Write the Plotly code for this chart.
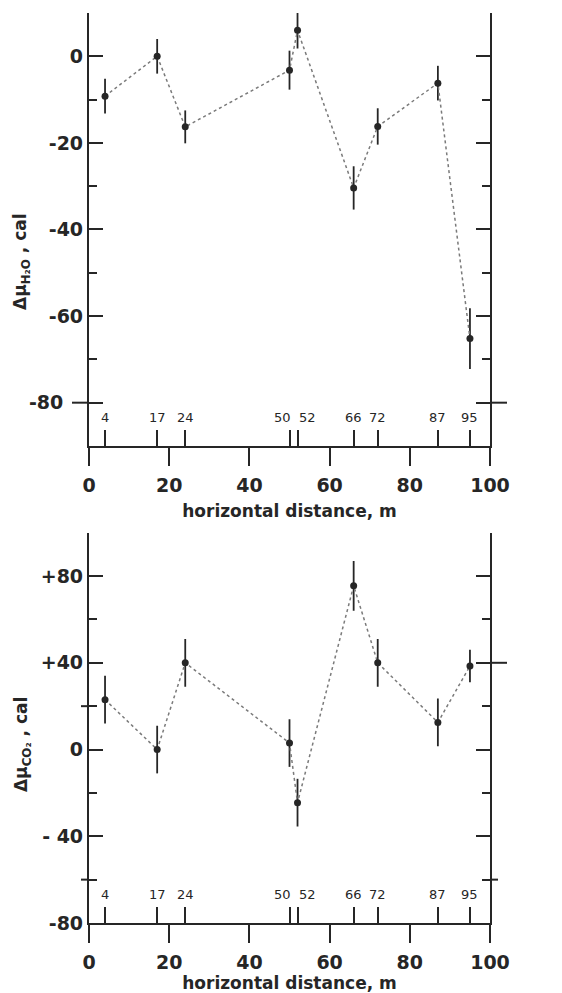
import plotly.graph_objects as go

# ---- data ----
distance = [4, 17, 24, 50, 52, 66, 72, 87, 95]
mu_h2o = [-9.2, 0.0, -16.3, -3.2, 6.0, -30.4, -16.2, -6.2, -65.2]
mu_h2o_err = [4.0, 4.0, 3.8, 4.5, 4.2, 5.0, 4.2, 4.0, 7.0]
mu_co2 = [23.0, 0.0, 40.0, 3.0, -24.5, 75.5, 40.0, 12.5, 38.5]
mu_co2_err = [11.0, 11.0, 11.0, 11.0, 11.0, 11.5, 11.0, 11.0, 7.5]

x_ticks = [0, 20, 40, 60, 80, 100]
x_ticktext = ["0", "20", "40", "60", "80", "100"]
top_yticks = [0, -20, -40, -60, -80]
top_yticktext = ["0", "-20", "-40", "-60", "-80\u00a0\u00a0\u00a0"]
bot_yticks = [80, 40, 0, -40, -80]
bot_yticktext = ["+80", "+40", "0", "- 40", "-80"]

TOP_RANGE = [-90, 10]
BOT_RANGE = [-80, 100]

INK = "#262626"
FONT = "DejaVu Sans"

fig = go.Figure()

def add_series(y, err, xa, ya, xa_ticks):
    fig.add_trace(go.Scatter(
        x=distance, y=y, xaxis=xa, yaxis=ya, mode="lines+markers",
        line=dict(color="#7a7a7a", width=1.5, dash="dot"),
        marker=dict(size=7, color=INK),
        error_y=dict(type="data", array=err, visible=True, width=0,
                     thickness=1.8, color=INK),
        showlegend=False, hoverinfo="skip"))
    # invisible trace on overlay axis carrying sample-location ticks
    fig.add_trace(go.Scatter(
        x=distance, y=y, xaxis=xa_ticks, yaxis=ya, mode="markers",
        marker=dict(opacity=0), showlegend=False, hoverinfo="skip"))

add_series(mu_h2o, mu_h2o_err, "x", "y", "x3")
add_series(mu_co2, mu_co2_err, "x2", "y2", "x4")

tickfont = dict(family=FONT, size=19, color=INK, weight="bold")

def xaxis_main(anchor):
    return dict(
        range=[0, 100], anchor=anchor, domain=[0, 1], automargin=False,
        tickmode="array", tickvals=x_ticks, ticktext=x_ticktext,
        ticks="outside", ticklen=18, tickwidth=2, tickcolor=INK,
        ticklabelstandoff=3,
        showline=True, linewidth=2.2, linecolor=INK,
        showgrid=False, zeroline=False, tickfont=tickfont,
        title=dict(text="horizontal distance, m",
                   font=dict(family=FONT, size=17, color=INK, weight="bold"),
                   standoff=10),
    )

def xaxis_samples(anchor, overlay):
    return dict(
        range=[0, 100], anchor=anchor, overlaying=overlay, side="bottom",
        automargin=False,
        tickmode="array", tickvals=distance, ticks="inside", ticklen=16,
        tickwidth=1.5, tickcolor=INK, showticklabels=False,
        showline=False, showgrid=False, zeroline=False,
    )

def yaxis(rng, domain, vals, text, minor_dtick, anchor):
    return dict(
        range=rng, domain=domain, anchor=anchor, automargin=False,
        tickmode="array", tickvals=vals, ticktext=text,
        ticks="inside", ticklen=14, tickwidth=2, tickcolor=INK,
        minor=dict(dtick=minor_dtick, tick0=0, ticks="inside", ticklen=8,
                   tickwidth=2, tickcolor=INK, showgrid=False),
        showline=True, linewidth=2.2, linecolor=INK, mirror="ticks",
        showgrid=False, zeroline=False, tickfont=tickfont,
    )

fig.update_layout(
    width=562, height=993,
    margin=dict(l=89, r=72, t=13, b=70),
    paper_bgcolor="white", plot_bgcolor="white",
    xaxis=xaxis_main("y"),
    xaxis2=xaxis_main("y2"),
    xaxis3=xaxis_samples("y", "x"),
    xaxis4=xaxis_samples("y2", "x2"),
    yaxis=yaxis(TOP_RANGE, [0.5242, 1.0], top_yticks, top_yticktext, 10, "x"),
    yaxis2=yaxis(BOT_RANGE, [0.0, 0.4289], bot_yticks, bot_yticktext, 20, "x2"),
)

# a few ticks in the original point outward instead of inward
outward = [
    ("y", TOP_RANGE, 0, -80, -17), ("y", TOP_RANGE, 1, -80, 17),
    ("y2", BOT_RANGE, 0, 20, -8), ("y2", BOT_RANGE, 0, -60, -8),
    ("y2", BOT_RANGE, 1, 40, 17), ("y2", BOT_RANGE, 1, -60, 8),
]
shapes = []
for yr, rng, xa, yv, ln in outward:
    fy = (yv - rng[0]) / (rng[1] - rng[0])
    shapes.append(dict(
        type="line", xref="paper", yref=yr + " domain",
        xsizemode="pixel", xanchor=xa,
        x0=0, x1=ln, y0=fy, y1=fy, line=dict(color=INK, width=2)))
fig.update_layout(shapes=shapes)

# sample-distance labels above the inward ticks
shifts = {50: -7, 52: 10}
annots = []
for xr, yr in (("x", "y domain"), ("x2", "y2 domain")):
    for d in distance:
        annots.append(dict(
            x=d, y=0, xref=xr, yref=yr, text=str(d), showarrow=False,
            xanchor="center", yanchor="bottom", yshift=19,
            xshift=shifts.get(d, 0),
            font=dict(family=FONT, size=13, color=INK)))

# y-axis titles
annots.append(dict(
    x=-0.167, y=0.7264, xref="paper", yref="paper", textangle=-90,
    text="Δμ<sub>H₂O</sub> , cal", showarrow=False,
    xanchor="center", yanchor="middle",
    font=dict(family=FONT, size=17, color=INK, weight="bold")))
annots.append(dict(
    x=-0.167, y=0.1956, xref="paper", yref="paper", textangle=-90,
    text="Δμ<sub>CO₂</sub> , cal", showarrow=False,
    xanchor="center", yanchor="middle",
    font=dict(family=FONT, size=17, color=INK, weight="bold")))
fig.update_layout(annotations=annots)

fig.write_html("out.html")
